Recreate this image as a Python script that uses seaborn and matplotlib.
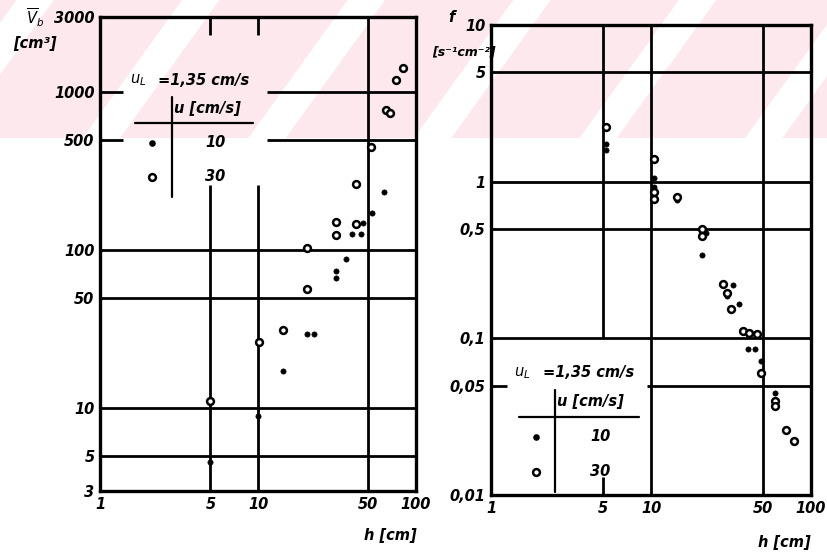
import numpy as np
import pandas as pd
import seaborn as sns
import matplotlib.pyplot as plt
from matplotlib.patches import Rectangle, Polygon

# left panel: bubble volume V_b [cm3] vs height h [cm]
h_v30 = [5, 10.1, 14.4, 20.4, 20.4, 31, 31, 41.7, 41.7, 52, 64.6, 68, 74.7, 82.8]
v_30 = [11.1, 26.3, 31.3, 57, 103, 125, 151, 147, 263, 450, 774, 740, 1197, 1426]
h_v10 = [5, 10, 14.4, 20.4, 22.6, 31, 31, 36, 39.4, 44.9, 46.2, 52.7, 62.7]
v_10 = [4.6, 8.9, 17.2, 29.6, 29.6, 67, 74, 88, 127, 127, 149, 172, 234]

# right panel: frequency f [s-1 cm-2] vs height h [cm]
h_f30 = [5.2, 10.4, 10.4, 10.4, 14.5, 20.8, 20.8, 28.2, 29.9, 31.6, 37.6, 41, 46, 48.7, 59.6, 59.6, 69.8, 78.3]
f_30 = [2.24, 1.40, 0.86, 0.78, 0.80, 0.50, 0.45, 0.221, 0.194, 0.155, 0.111, 0.108, 0.106, 0.060, 0.0397, 0.0369, 0.026, 0.0221]
h_f10 = [5.2, 5.2, 10.4, 10.4, 14.5, 22, 20.8, 32.6, 29.9, 35.5, 40.4, 44.7, 48.7, 59.6]
f_10 = [1.75, 1.60, 1.06, 0.92, 0.76, 0.47, 0.34, 0.22, 0.185, 0.165, 0.086, 0.086, 0.0714, 0.0447]

x_ticks = [1, 5, 10, 50, 100]
v_ticks = [3, 5, 10, 50, 100, 500, 1000, 3000]
f_ticks = [0.01, 0.05, 0.1, 0.5, 1, 5, 10]
f_labels = ["0,01", "0,05", "0,1", "0,5", "1", "5", "10"]

sns.set_style("white")
plt.rcParams.update({
    "font.family": ["DejaVu Sans"],
    "mathtext.fontset": "dejavusans",
    "text.color": "black",
    "xtick.color": "black",
    "ytick.color": "black",
})

fig = plt.figure(figsize=(8.28, 5.55), dpi=100, facecolor="white")

# faint pink scan watermark across the top of the page
band_h = 138 / 555
fig.patches.append(Rectangle((0, 1 - band_h), 1, band_h, transform=fig.transFigure,
                             facecolor="#fde9ed", edgecolor="none", zorder=-10))
for x0 in np.arange(-0.1, 1.1, 0.2):
    fig.patches.append(Polygon([(x0, 1 - band_h), (x0 + 0.045, 1 - band_h),
                                (x0 + 0.165, 1.0), (x0 + 0.12, 1.0)],
                               closed=True, transform=fig.transFigure,
                               facecolor="white", edgecolor="none", zorder=-9))

ax1 = fig.add_axes([0.1208, 0.1153, 0.3816, 0.8541])
ax2 = fig.add_axes([0.593, 0.1081, 0.3865, 0.8468])

tick_font = dict(fontsize=10.5, fontstyle="italic", fontweight="bold")
LW = 2.0


def scatter_pair(ax, x_open, y_open, x_fill, y_fill):
    d_open = pd.DataFrame({"h": x_open, "y": y_open})
    d_fill = pd.DataFrame({"h": x_fill, "y": y_fill})
    sns.scatterplot(data=d_fill, x="h", y="y", ax=ax, color="black", s=14,
                    edgecolor="black", linewidth=0.5, zorder=5)
    sns.scatterplot(data=d_open, x="h", y="y", ax=ax, color="white", s=24,
                    edgecolor="black", linewidth=1.8, zorder=6)


def style_axes(ax, yticks, ylabels, ylim):
    ax.patch.set_alpha(0)
    ax.set_xscale("log")
    ax.set_yscale("log")
    ax.set_xlim(1, 100)
    ax.set_ylim(*ylim)
    ax.set_xticks(x_ticks)
    ax.set_xticklabels([str(t) for t in x_ticks], **tick_font)
    ax.set_yticks(yticks)
    ax.set_yticklabels(ylabels, **tick_font)
    ax.minorticks_off()
    ax.tick_params(length=0, pad=4)
    ax.set_xlabel("")
    ax.set_ylabel("")
    for sp in ax.spines.values():
        sp.set_color("black")
        sp.set_linewidth(2.4)


def table_legend(ax, x0, y_top, dx, dy):
    kw = dict(transform=ax.transAxes, fontstyle="italic", fontweight="bold", fontsize=10.5)
    ax.text(x0, y_top, r"$u_L$", va="center", ha="left", **kw)
    ax.text(x0 + 0.09, y_top, "=1,35 cm/s", va="center", ha="left", **kw)
    ax.text(x0 + dx, y_top - dy, "u [cm/s]", va="center", ha="left", **kw)
    ax.plot([x0 + 0.015, x0 + 0.39], [y_top - 1.5 * dy] * 2, color="black", lw=1.6,
            transform=ax.transAxes, zorder=7)
    ax.plot([x0 + dx - 0.008] * 2, [y_top - 0.6 * dy, y_top - 4.1 * dy], color="black",
            lw=1.6, transform=ax.transAxes, zorder=7)
    ax.scatter([x0 + 0.07], [y_top - 2.2 * dy], s=14, color="black", transform=ax.transAxes, zorder=7)
    ax.scatter([x0 + 0.07], [y_top - 3.4 * dy], s=24, facecolor="white", edgecolor="black",
               linewidth=1.8, transform=ax.transAxes, zorder=7)
    ax.text(x0 + 0.27, y_top - 2.2 * dy, "10", va="center", ha="center", **kw)
    ax.text(x0 + 0.27, y_top - 3.4 * dy, "30", va="center", ha="center", **kw)


# ---- left panel
scatter_pair(ax1, h_v30, v_30, h_v10, v_10)
style_axes(ax1, v_ticks, [str(t) for t in v_ticks], (3, 3000))
for yv in [5, 10, 50, 100]:
    ax1.hlines(yv, 1, 100, color="black", lw=LW)
for yv in [500, 1000]:
    ax1.hlines(yv, 11.4, 100, color="black", lw=LW)
    ax1.hlines(yv, 1, 1.4, color="black", lw=LW)
for xv in [5, 10]:
    ax1.vlines(xv, 3, 260, color="black", lw=LW)
    ax1.vlines(xv, 2300, 3000, color="black", lw=LW)
ax1.vlines(50, 3, 3000, color="black", lw=LW)
table_legend(ax1, 0.095, 0.867, 0.14, 0.06)

# ---- right panel
scatter_pair(ax2, h_f30, f_30, h_f10, f_10)
style_axes(ax2, f_ticks, f_labels, (0.01, 10))
for yv in [0.1, 0.5, 1, 5]:
    ax2.hlines(yv, 1, 100, color="black", lw=LW)
ax2.hlines(0.05, 9.5, 100, color="black", lw=LW)
ax2.hlines(0.05, 1, 1.25, color="black", lw=LW)
for xv in [10, 50]:
    ax2.vlines(xv, 0.01, 10, color="black", lw=LW)
ax2.vlines(5, 0.1, 10, color="black", lw=LW)
ax2.vlines(5, 0.01, 0.013, color="black", lw=LW)
table_legend(ax2, 0.072, 0.26, 0.135, 0.062)

# axis titles in the corners
lab = dict(fontstyle="italic", fontweight="bold", fontsize=10.5, ha="center", va="center")
fig.text(0.042, 0.968, r"$\overline{V}_b$", **lab)
fig.text(0.042, 0.922, "[cm³]", **lab)
fig.text(0.545, 0.969, "f", **lab)
fig.text(0.560, 0.906, "[s⁻¹cm⁻²]", fontstyle="italic", fontweight="bold", fontsize=9,
         ha="center", va="center")
fig.text(0.471, 0.036, "h [cm]", **lab)
fig.text(0.947, 0.023, "h [cm]", **lab)

fig.savefig("out.png", dpi=100, facecolor="white")
